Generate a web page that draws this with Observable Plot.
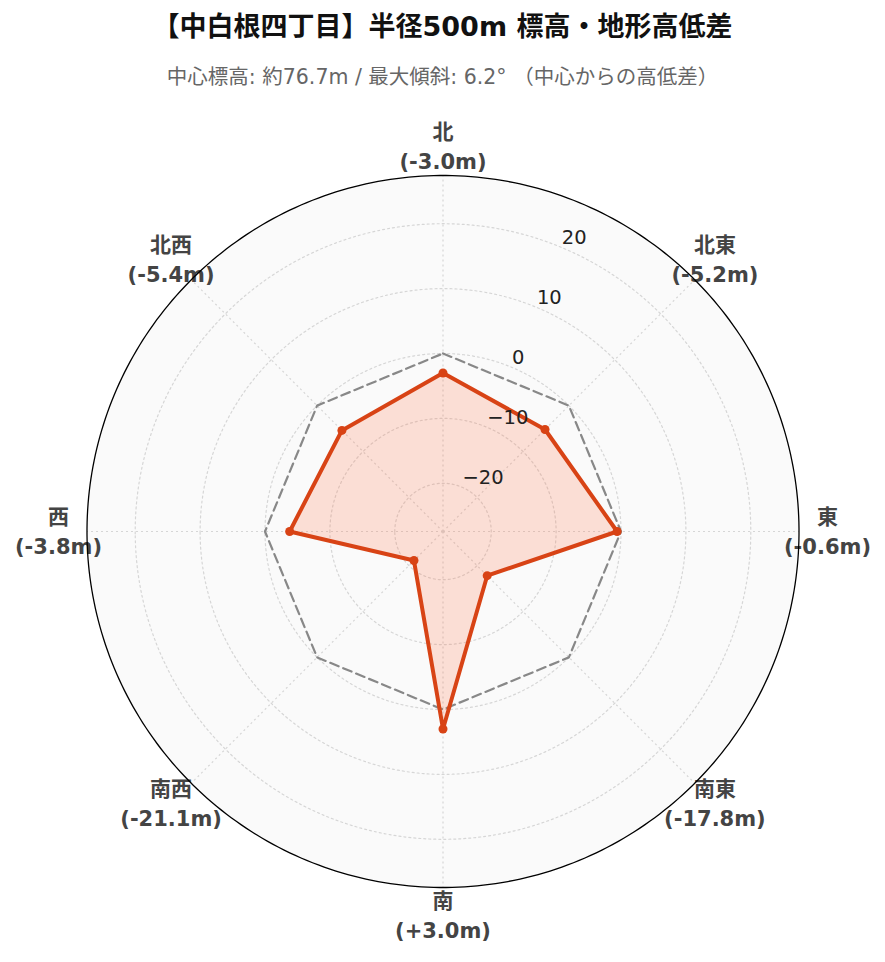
<!DOCTYPE html>
<html>
<head>
<meta charset="utf-8">
<script src="https://cdn.jsdelivr.net/npm/d3@7"></script>
<script src="https://cdn.jsdelivr.net/npm/@observablehq/plot@0.6"></script>
<style>
  html, body { margin: 0; padding: 0; background: #fff; }
  body { width: 885px; font-family: "DejaVu Sans", "Noto Sans CJK JP", sans-serif; }
  #title { height: 54px; line-height: 54px; text-align: center; font-weight: bold; font-size: 27px; color: #111; white-space: nowrap; }
  #subtitle { height: 46px; line-height: 46px; text-align: center; font-size: 20.5px; color: #666; white-space: nowrap; }
  #chart svg { display: block; }
</style>
</head>
<body>
<div id="title">【中白根四丁目】半径500m 標高・地形高低差</div>
<div id="subtitle">中心標高: 約76.7m / 最大傾斜: 6.2° （中心からの高低差）</div>
<div id="chart"></div>
<script>
// ---- data ----
const directions = ["北", "北東", "東", "南東", "南", "南西", "西", "北西"];
const diffs = [-3.0, -5.2, -0.6, -17.8, 3.0, -21.1, -3.8, -5.4];
const diffLabels = ["(-3.0m)", "(-5.2m)", "(-0.6m)", "(-17.8m)", "(+3.0m)", "(-21.1m)", "(-3.8m)", "(-5.4m)"];
const radialTicks = [-20, -10, 0, 10, 20];
const radialRange = [-27.43, 27.43];
const referenceValue = 0;

// ---- scales (angle -> longitude, value -> arc distance from pole) ----
const OUTER = 0.5;
const lon = d3.scaleLinear().domain([0, directions.length]).range([180, -180]);
const rad = d3.scaleLinear().domain(radialRange).range([0, OUTER]);
const lat = v => 90 - rad(v);
const circle = r => d3.geoCircle().center([0, 90]).radius(r).precision(1)();
const pts = directions.map((name, i) => ({ i, name, value: diffs[i], label: diffLabels[i] }));
const fmt = v => (v < 0 ? "\u2212" + Math.abs(v) : String(v));
const tickAngle = 180 - 22.5;
const labelR = OUTER * 384.5 / 356;

const chart = Plot.plot({
  width: 885,
  height: 862,
  marginTop: 75,
  marginBottom: 75,
  marginLeft: 86.5,
  marginRight: 86.5,
  projection: {
    type: "azimuthal-equidistant",
    rotate: [0, -90],
    domain: circle(OUTER),
    clip: false
  },
  style: { fontFamily: "'DejaVu Sans', 'Noto Sans CJK JP', sans-serif", background: "#fff", overflow: "visible" },
  marks: [
    Plot.geo([OUTER], { geometry: circle, fill: "#fafafa", stroke: "none" }),
    Plot.geo(radialTicks, { geometry: v => circle(rad(v)), stroke: "#d6d6d6", strokeWidth: 1.2, strokeDasharray: "2,3" }),
    Plot.link(pts, { x1: d => lon(d.i), y1: 90, x2: d => lon(d.i), y2: 90 - OUTER, stroke: "#d6d6d6", strokeWidth: 1.2, strokeDasharray: "2,3" }),
    Plot.line(pts, { x: d => lon(d.i), y: () => lat(referenceValue), curve: "linear-closed", stroke: "#888", strokeWidth: 2.2, strokeDasharray: "9,5" }),
    Plot.line(pts, { x: d => lon(d.i), y: d => lat(d.value), curve: "linear-closed", fill: "#ff7043", fillOpacity: 0.2, stroke: "#d84315", strokeWidth: 4, strokeLinejoin: "round" }),
    Plot.dot(pts, { x: d => lon(d.i), y: d => lat(d.value), r: 4.5, fill: "#d84315", stroke: "none" }),
    Plot.text(radialTicks, { x: () => tickAngle, y: v => lat(v), text: fmt, textAnchor: "start", dx: 1, dy: -9.5, fontSize: 19.5, fill: "#222" }),
    Plot.text(pts, { x: d => lon(d.i), y: () => 90 - labelR, text: d => d.name + "\n" + d.label, fontSize: 21, fontWeight: "bold", lineHeight: 1.43, dy: -2.5, fill: "#444" }),
    Plot.geo([OUTER], { geometry: circle, fill: "none", stroke: "#000", strokeWidth: 1.3 })
  ]
});
document.getElementById("chart").appendChild(chart);
</script>
</body>
</html>
